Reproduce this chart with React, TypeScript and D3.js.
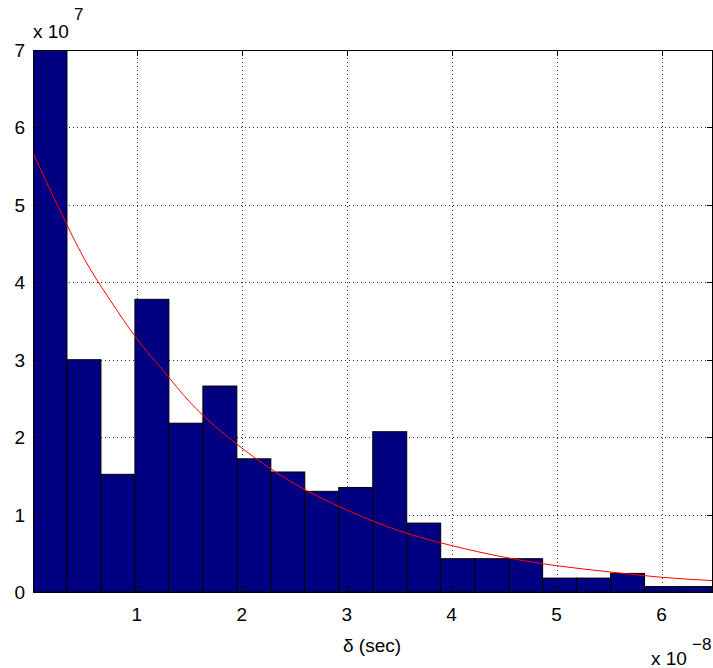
import React from "react";
import * as d3 from "d3";

// Histogram counts (units of 1e7), 20 equal bins
const binCounts = [7.0, 3.0, 1.52, 3.78, 2.18, 2.66, 1.72, 1.55, 1.3, 1.35, 2.07, 0.89, 0.43, 0.43, 0.43, 0.18, 0.18, 0.24, 0.07, 0.07];
// Histogram range (units of 1e-8)
const xRange = [0.01, 6.486];
// Red fit curve (x in 1e-8, y in 1e7)
const fitX = [0.01, 0.27, 0.5, 0.75, 1.0, 1.25, 1.5, 2.0, 2.5, 3.0, 3.5, 4.0, 4.5, 5.0, 5.5, 6.0, 6.486];
const fitY = [5.67, 4.92, 4.3, 3.76, 3.27, 2.86, 2.46, 1.86, 1.4, 1.06, 0.79, 0.6, 0.45, 0.34, 0.26, 0.19, 0.147];
const xTicks = [1, 2, 3, 4, 5, 6];
const yTicks = [0, 1, 2, 3, 4, 5, 6, 7];

const W = 713, H = 668;
const L = 33, R = 712.5, T = 50, B = 592;
const FONT = "'Liberation Sans', Arial, Helvetica, sans-serif";

export default function App() {
  const x = d3.scaleLinear().domain(xRange).range([L, R]);
  const y = d3.scaleLinear().domain([0, 7]).range([B, T]);
  const n = binCounts.length;
  const bw = (xRange[1] - xRange[0]) / n;
  const edges = d3.range(n + 1).map((i) => xRange[0] + i * bw);
  const fitPts = fitX.map((v, i) => [v, fitY[i]] as [number, number]);
  const line = d3.line<[number, number]>().x((d) => x(d[0])).y((d) => y(d[1])).curve(d3.curveMonotoneX);
  const gridColor = "#333";
  const tickLen = 6;
  return (
    <svg width={W} height={H} style={{ position: "absolute", left: 0, top: 0, display: "block", background: "#fff" }}>
      <defs>
        <clipPath id="plot">
          <rect x={L} y={T} width={R - L} height={B - T} />
        </clipPath>
      </defs>
      {/* grid */}
      <g stroke={gridColor} strokeWidth={1} strokeDasharray="1 3" shapeRendering="crispEdges">
        {xTicks.map((t) => (
          <line key={"gx" + t} x1={Math.round(x(t)) + 0.5} x2={Math.round(x(t)) + 0.5} y1={T} y2={B} />
        ))}
        {yTicks.filter((t) => t > 0 && t < 7).map((t) => (
          <line key={"gy" + t} x1={L} x2={R} y1={Math.round(y(t)) + 0.5} y2={Math.round(y(t)) + 0.5} />
        ))}
      </g>
      {/* bars */}
      <g clipPath="url(#plot)">
        {binCounts.map((c, i) => (
          <rect
            key={"b" + i}
            x={x(edges[i])}
            y={y(c)}
            width={x(edges[i + 1]) - x(edges[i])}
            height={B - y(c)}
            fill="#000080"
            stroke="#000"
            strokeWidth={1}
          />
        ))}
        <path d={line(fitPts) || ""} fill="none" stroke="#ff0000" strokeWidth={1} />
      </g>
      {/* axes box */}
      <g stroke="#000" strokeWidth={1} fill="none" shapeRendering="crispEdges">
        <rect x={L + 0.5} y={T + 0.5} width={R - L - 0.5} height={B - T} />
        {xTicks.map((t) => (
          <g key={"tx" + t}>
            <line x1={Math.round(x(t)) + 0.5} x2={Math.round(x(t)) + 0.5} y1={B} y2={B - tickLen} />
            <line x1={Math.round(x(t)) + 0.5} x2={Math.round(x(t)) + 0.5} y1={T} y2={T + tickLen} />
          </g>
        ))}
        {yTicks.map((t) => (
          <g key={"ty" + t}>
            <line x1={L} x2={L + tickLen} y1={Math.round(y(t)) + 0.5} y2={Math.round(y(t)) + 0.5} />
            <line x1={R - tickLen} x2={R} y1={Math.round(y(t)) + 0.5} y2={Math.round(y(t)) + 0.5} />
          </g>
        ))}
      </g>
      {/* tick labels */}
      <g fontFamily={FONT} fontSize={19} fill="#000">
        {xTicks.map((t) => (
          <text key={"lx" + t} x={x(t)} y={621} textAnchor="middle">{t}</text>
        ))}
        {yTicks.map((t) => (
          <text key={"ly" + t} x={25} y={y(t) + 7} textAnchor="end">{t}</text>
        ))}
        <text x={372} y={652} textAnchor="middle">δ (sec)</text>
        <text x={33} y={38}>x 10</text>
        <text x={74} y={20} fontSize={17}>7</text>
        <text x={651} y={665}>x 10</text>
        <text x={692} y={650} fontSize={17}>−8</text>
      </g>
    </svg>
  );
}
